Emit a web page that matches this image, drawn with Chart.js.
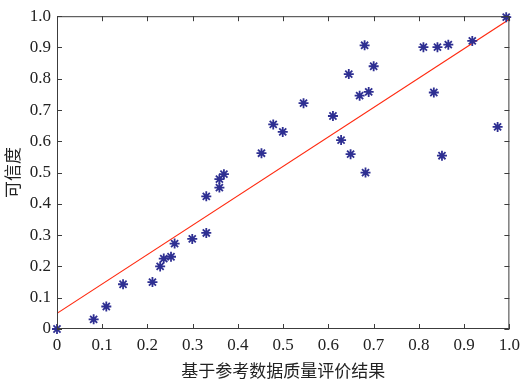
<!DOCTYPE html>
<html>
<head>
<meta charset="utf-8">
<script src="https://cdn.jsdelivr.net/npm/chart.js@4"></script>
<style>
html,body{margin:0;padding:0;background:#fff;}
#wrap{width:526px;height:382px;}
</style>
</head>
<body>
<div id="wrap"><canvas id="c" width="526" height="382"></canvas></div>
<script>
const xVals = [0, 0.081, 0.109, 0.146, 0.211, 0.228, 0.236, 0.252, 0.260, 0.299, 0.330, 0.330, 0.359, 0.359, 0.369, 0.452, 0.478, 0.499, 0.545, 0.610, 0.628, 0.645, 0.649, 0.669, 0.680, 0.682, 0.689, 0.700, 0.810, 0.833, 0.841, 0.851, 0.865, 0.918, 0.974, 0.993];
const yVals = [0, 0.031, 0.072, 0.143, 0.150, 0.200, 0.225, 0.231, 0.273, 0.288, 0.307, 0.424, 0.452, 0.479, 0.495, 0.562, 0.654, 0.630, 0.722, 0.681, 0.604, 0.815, 0.559, 0.746, 0.907, 0.500, 0.758, 0.840, 0.901, 0.756, 0.901, 0.554, 0.909, 0.921, 0.646, 0.997];
const fitX = [0, 1];
const fitY = [0.05, 0.99];
const xTicks = [0, 0.1, 0.2, 0.3, 0.4, 0.5, 0.6, 0.7, 0.8, 0.9, 1.0];
const yTicks = [0, 0.1, 0.2, 0.3, 0.4, 0.5, 0.6, 0.7, 0.8, 0.9, 1.0];
const xTitle = '基于参考数据质量评价结果';
const yTitle = '可信度';

const fmt = v => (v === 0 ? '0' : v.toFixed(1));

const boxPlugin = {
  id: 'boxTicks',
  afterDatasetsDraw(chart) {
    const {ctx, chartArea: a, scales} = chart;
    ctx.save();
    ctx.strokeStyle = '#3c3c3c';
    ctx.lineWidth = 1;
    ctx.beginPath();
    ctx.rect(a.left + 0.5, a.top + 0.5, a.right - a.left - 1, a.bottom - a.top - 1);
    ctx.stroke();
    const L = 5;
    ctx.beginPath();
    xTicks.forEach(v => {
      const px = Math.round(scales.x.getPixelForValue(v)) + 0.5;
      ctx.moveTo(px, a.bottom); ctx.lineTo(px, a.bottom - L);
      ctx.moveTo(px, a.top); ctx.lineTo(px, a.top + L);
    });
    yTicks.forEach(v => {
      const py = Math.round(scales.y.getPixelForValue(v)) + 0.5;
      ctx.moveTo(a.left, py); ctx.lineTo(a.left + L, py);
      ctx.moveTo(a.right, py); ctx.lineTo(a.right - L, py);
    });
    ctx.stroke();
    ctx.restore();
  }
};

new Chart(document.getElementById('c'), {
  type: 'scatter',
  data: {
    datasets: [
      {
        type: 'line',
        data: fitX.map((x, i) => ({x, y: fitY[i]})),
        borderColor: '#ff2a10',
        borderWidth: 1.2,
        pointRadius: 0,
        fill: false,
        tension: 0,
        order: 2
      },
      {
        data: xVals.map((x, i) => ({x, y: yVals[i]})),
        pointStyle: 'star',
        pointRadius: 5,
        borderColor: '#2e2f92',
        backgroundColor: '#2e2f92',
        borderWidth: 1.8,
        clip: false,
        order: 1
      }
    ]
  },
  options: {
    responsive: false,
    animation: false,
    devicePixelRatio: 1,
    layout: {padding: {top: 9, right: 15, left: 0, bottom: 0}},
    plugins: {legend: {display: false}, tooltip: {enabled: false}},
    scales: {
      x: {
        type: 'linear', min: 0, max: 1,
        afterBuildTicks: s => { s.ticks = xTicks.map(v => ({value: v})); },
        afterFit: s => { s.height = 53; },
        grid: {display: false, drawTicks: false},
        border: {display: false},
        ticks: {
          callback: v => fmt(v),
          color: '#222', padding: 6, maxRotation: 0, autoSkip: false,
          font: {family: '"Liberation Serif", "Times New Roman", serif', size: 17}
        },
        title: {
          display: true, text: xTitle, color: '#222',
          font: {family: '"Noto Sans CJK SC", sans-serif', size: 17},
          padding: {top: 2, bottom: 1}
        }
      },
      y: {
        type: 'linear', min: 0, max: 1,
        afterBuildTicks: s => { s.ticks = yTicks.map(v => ({value: v})); },
        afterFit: s => { s.width = 57; },
        grid: {display: false, drawTicks: false},
        border: {display: false},
        ticks: {
          callback: v => fmt(v),
          color: '#222', padding: 6, autoSkip: false,
          font: {family: '"Liberation Serif", "Times New Roman", serif', size: 17}
        },
        title: {
          display: true, text: yTitle, color: '#222',
          font: {family: '"Noto Sans CJK SC", sans-serif', size: 17},
          padding: {top: 2, bottom: 0}
        }
      }
    }
  },
  plugins: [boxPlugin]
});
</script>
</body>
</html>
